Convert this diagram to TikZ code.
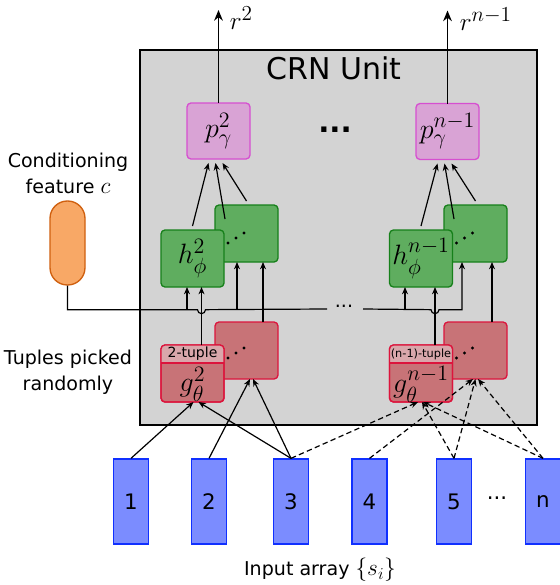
\RequirePackage{fix-cm}
\documentclass[tikz,border=0pt]{standalone}
\usepackage{amsmath}
\usepackage{fontspec}
\setmainfont{DejaVu Sans}
\usetikzlibrary{calc,arrows.meta}
\DeclareMathSizes{20}{21}{16.5}{12}
\DeclareMathSizes{18}{19}{16}{12}
\DeclareMathSizes{14.3}{17.5}{12.5}{9}
\definecolor{unitgray}{HTML}{D3D3D3}
\definecolor{pfill}{HTML}{D9A3D5}
\definecolor{pline}{HTML}{D64FD0}
\definecolor{hfill}{HTML}{5FAD5F}
\definecolor{hline}{HTML}{16801A}
\definecolor{gfill}{HTML}{C87377}
\definecolor{gline}{HTML}{DC143C}
\definecolor{ghead}{HTML}{D9A7AB}
\definecolor{cfill}{HTML}{F8A866}
\definecolor{cline}{HTML}{D0600F}
\definecolor{sfill}{HTML}{7B8CFF}
\definecolor{sline}{HTML}{1030FF}

\begin{document}
\begin{tikzpicture}[
    x=0.75pt,y=-0.75pt,
    unitbox/.style={rectangle,draw=black,fill=unitgray,line width=1.5pt,
      minimum width=297.75pt,minimum height=281.25pt},
    pbox/.style={rectangle,rounded corners=3pt,draw=pline,fill=pfill,line width=1pt,
      minimum width=47.25pt,minimum height=42pt,outer sep=0pt,inner sep=0pt,
      font=\fontsize{20}{22}\selectfont},
    hbox/.style={rectangle,rounded corners=3pt,draw=hline,fill=hfill,line width=1pt,
      minimum width=47.25pt,minimum height=42.75pt,outer sep=0pt,inner sep=0pt,
      font=\fontsize{20}{22}\selectfont},
    gbox/.style={rectangle,rounded corners=3pt,draw=gline,fill=gfill,line width=1pt,
      minimum width=47.25pt,minimum height=42.75pt,outer sep=0pt},
    sbox/.style={rectangle,draw=sline,fill=sfill,line width=1pt,
      minimum width=26.25pt,minimum height=63.75pt,font=\fontsize{16}{18}\selectfont},
    cond/.style={rectangle,rounded corners=13pt,draw=cline,fill=cfill,line width=1pt,
      minimum width=26.25pt,minimum height=63pt},
    mlbl/.style={font=\fontsize{20}{22}\selectfont,inner sep=0pt},
    rlbl/.style={font=\fontsize{18}{20}\selectfont,inner sep=0pt},
    txt/.style={font=\fontsize{14.3}{19.5}\selectfont,align=center},
    wire/.style={line width=0.9pt},
    arr/.style={-{Stealth[length=5.5pt,width=4.5pt]},line width=0.9pt},
    darr/.style={arr,dash pattern=on 4pt off 2.5pt},
    rarr/.style={-{Stealth[length=8pt,width=6.5pt]},line width=1.4pt}
  ]
    \useasboundingbox (0,0) rectangle (560,585);
    % CRN unit frame
    \node[unitbox] (crn) at (338.5,237.5) {};
    \node[font=\fontsize{22.5}{24}\selectfont] (crnlbl) at (334,68) {CRN Unit};
    % Output heads
    \node[pbox] (p2) at (218.5,131) {$p^2_\gamma$};
    \node[pbox] (pn) at (447.5,131.5) {$p^{n-1}_\gamma$};
    \node[font=\fontsize{22}{24}\selectfont\bfseries] (pdots) at (335,130) {...};
    % Relation modules h (back copy first)
    \node[hbox] (h2b) at (246.5,233.5) {};
    \node[hbox] (h2) at (192.5,258.5) {$h^2_\phi$};
    \node[hbox] (hnb) at (475.5,233.5) {};
    \node[hbox] (hn) at (421,258.5) {$h^{n-1}_\phi$};
    % Tuple modules g
    \node[gbox] (g2b) at (246.5,350.5) {};
    \node[gbox] (g2) at (192.5,373.5) {};
    \node[gbox] (gnb) at (475.5,350.5) {};
    \node[gbox] (gn) at (421,373.5) {};
    \foreach \g/\t/\f in {g2/2-tuple/10.5,gn/{(n-1)-tuple}/8.5} {
      \begin{scope}
        \clip[rounded corners=3pt] (\g.north west) rectangle (\g.south east);
        \fill[ghead] (\g.north west) rectangle ($(\g.north east)+(0,18)$);
      \end{scope}
      \draw[gline,line width=1pt] ($(\g.north west)+(0,18)$) -- ($(\g.north east)+(0,18)$);
      \draw[gline,line width=1pt,rounded corners=3pt] (\g.north west) rectangle (\g.south east);
      \node[font=\fontsize{\f}{\f}\selectfont,inner sep=0pt] (head\g) at ($(\g.north)+(0,9)$) {\t};
    }
    \node[mlbl] (g2lbl) at ($(g2.center)+(0,11)$) {$g^2_\theta$};
    \node[mlbl] (gnlbl) at ($(gn.center)+(0,11)$) {$g^{n-1}_\theta$};
    % Stacking dots
    \foreach \b in {h2,hn,g2,gn}
      \foreach \dx/\dy in {4/13,12/8,20/3}
        \fill ($(\b.north east)+(\dx,\dy)$) circle (1.3pt);
    % Conditioning feature
    \node[cond] (cond) at (67.5,243) {};
    \node[txt] (condlbl) at (68,173) {Conditioning\\feature $c$};
    \node[txt] (tuplbl) at (68,372) {Tuples picked\\randomly};
    % Input array
    \foreach \i/\x in {1/131,2/209,3/291,4/369.5,5/454,n/543}
      \node[sbox] (in\i) at (\x,501.5) {\i};
    \node[font=\fontsize{16}{18}\selectfont] (indots) at (497,498) {...};
    \node[txt] (inlbl) at (320,570) {Input array $\{s_i\}$};
    % Outputs r
    \draw[rarr] (p2.north) -- ++(0,-93) coordinate (r2tip);
    \node[rlbl,anchor=west] (r2lbl) at ($(r2tip)+(11,8)$) {$r^2$};
    \draw[rarr] (pn.north) -- ++(0,-93) coordinate (rntip);
    \node[rlbl,anchor=west] (rnlbl) at ($(rntip)+(12,9)$) {$r^{n-1}$};
    % h -> p
    \foreach \h/\hb/\p in {h2/h2b/p2,hn/hnb/pn} {
      \draw[arr] ($(\h.north)+(0,-4)$) -- ($(\p.south)+(-10,4)$);
      \draw[arr] ($(\hb.north west)+(10,14)$) -- ($(\p.south)+(-3,4)$);
      \draw[arr] ($(\hb.north)+(0,-4)$) -- ($(\p.south)+(4,4)$);
    }
    % Conditioning bus
    \coordinate (bus) at ($(cond.south)+(0,24)$);
    \coordinate (gapL) at (327,309);
    \coordinate (gapR) at (363,309);
    \coordinate (hop2) at ($(g2.north)+(9,0)$);
    \coordinate (hopn) at ($(gn.north)+(14,0)$);
    \coordinate (hnbin) at ($(hnb.south)+(-13.5,0)$);
    \draw[wire] (cond.south) |- ([xshift=-3pt]hop2 |- bus) arc[start angle=180,end angle=0,radius=4] -- (gapL);
    \node[txt] (busdots) at (344,306) {...};
    \draw[arr] (gapR) -- ([xshift=-3pt]hopn |- bus) arc[start angle=180,end angle=0,radius=4] -| (hnbin);
    \foreach \b/\dx in {h2/-5.5,h2b/-9.5,hn/-16} {
      \coordinate (tgt) at ($(\b.south)+(\dx,0)$);
      \draw[arr] (tgt |- bus) -- (tgt);
    }
    % g -> h
    \foreach \g/\h/\dx in {g2/h2/9,g2b/h2b/16.5,gn/hn/14,gnb/hnb/16.5}
      \draw[arr] ($(\g.north)+(\dx,0)$) -- ($(\h.south)+(\dx,0)$);
    % Inputs -> g
    \foreach \s/\t/\dx in {1/g2/1,3/g2/6,2/g2b/3.5,3/g2b/6.5}
      \draw[arr] (in\s.north) -- ($(\t.south)+(\dx,0)$);
    \foreach \s/\t/\dx in {3/gn/-3,5/gn/1,n/gn/2,4/gnb/-2.5,5/gnb/0,n/gnb/2.5}
      \draw[darr] (in\s.north) -- ($(\t.south)+(\dx,0)$);
  \end{tikzpicture}
\end{document}
